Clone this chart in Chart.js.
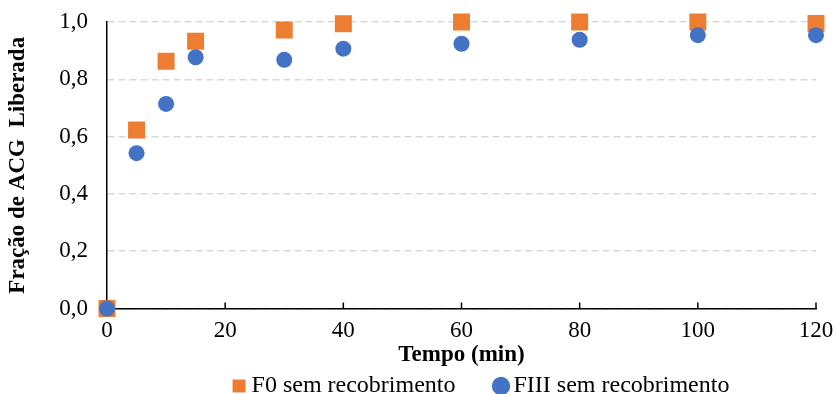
<!DOCTYPE html>
<html>
<head>
<meta charset="utf-8">
<script src="https://cdn.jsdelivr.net/npm/chart.js@4.4.1/dist/chart.umd.min.js"></script>
<style>
  html, body { margin: 0; padding: 0; background: #fff; }
</style>
</head>
<body>
<canvas id="releaseChart" width="837" height="394"></canvas>
<script>
// Release profile: fraction of ACG released over time (min)
const tempos = [0, 5, 10, 15, 30, 40, 60, 80, 100, 120];
const f0Values = [0.000, 0.623, 0.863, 0.933, 0.972, 0.994, 1.000, 1.000, 1.000, 0.995];
const fiiiValues = [0.000, 0.542, 0.714, 0.877, 0.868, 0.907, 0.924, 0.938, 0.954, 0.954];
const seriesNames = ['F0 sem recobrimento', 'FIII sem recobrimento'];
const xTicks = [0, 20, 40, 60, 80, 100, 120];
const yTicks = [0, 0.2, 0.4, 0.6, 0.8, 1.0];

const serif = '"Liberation Serif", "Times New Roman", serif';
Chart.defaults.font.family = serif;
Chart.defaults.color = '#000';

const toPoints = values => tempos.map((t, i) => ({ x: t, y: values[i] }));

// small tick marks pointing up from the time axis
const innerTicks = {
    id: 'innerTicks',
    beforeDatasetsDraw(chart) {
        const scale = chart.scales.x;
        const ctx = chart.ctx;
        ctx.save();
        ctx.strokeStyle = '#000';
        ctx.lineWidth = 1.5;
        xTicks.forEach(v => {
            if (v === 0) return;
            const px = scale.getPixelForValue(v);
            ctx.beginPath();
            ctx.moveTo(px, scale.top);
            ctx.lineTo(px, scale.top - 6);
            ctx.stroke();
        });
        ctx.restore();
    }
};

// legend: keep the wide item spacing but sit it just under the axis title,
// a bit right of the canvas centre (box is stretched so nothing gets clipped)
const legendOffset = {
    id: 'legendOffset',
    afterLayout(chart) {
        const lg = chart.legend;
        lg.left += 76;
        lg.right += 76;
        lg.top -= 39.5;
        lg.bottom = chart.height;
        lg.height = lg.bottom - lg.top;
    }
};

const ctx = document.getElementById('releaseChart').getContext('2d');
new Chart(ctx, {
    type: 'scatter',
    data: {
        datasets: [
            {
                label: seriesNames[0],
                data: toPoints(f0Values),
                pointStyle: 'rect',
                pointRadius: 12,
                pointBackgroundColor: '#ED7D31',
                backgroundColor: '#ED7D31',
                pointBorderWidth: 0,
                borderWidth: 0,
                clip: false,
                order: 1
            },
            {
                label: seriesNames[1],
                data: toPoints(fiiiValues),
                pointStyle: 'circle',
                pointRadius: 8,
                pointBackgroundColor: '#4472C4',
                backgroundColor: '#4472C4',
                pointBorderWidth: 0,
                borderWidth: 0,
                clip: false,
                order: 0
            }
        ]
    },
    options: {
        responsive: false,
        animation: false,
        events: [],
        layout: {
            padding: { top: 22, right: 21, bottom: 0, left: 0 }
        },
        plugins: {
            legend: {
                position: 'bottom',
                maxHeight: 25.5,
                labels: {
                    usePointStyle: true,
                    boxWidth: 1,
                    boxHeight: 13,
                    padding: 45,
                    color: '#000',
                    font: { size: 24 },
                    sort: (a, b) => a.datasetIndex - b.datasetIndex
                }
            },
            tooltip: { enabled: false }
        },
        scales: {
            x: {
                type: 'linear',
                min: 0,
                max: 120,
                afterBuildTicks: scale => {
                    scale.ticks = xTicks.map(v => ({ value: v }));
                },
                afterFit: scale => {
                    scale.height = 60;
                },
                grid: {
                    display: false,
                    drawTicks: true,
                    tickLength: 9,
                    tickColor: 'rgba(0,0,0,0)'
                },
                border: { display: true, color: '#000', width: 1.5 },
                ticks: {
                    padding: 0,
                    font: { size: 23 },
                    color: '#000'
                },
                title: {
                    display: true,
                    text: 'Tempo (min)',
                    font: { size: 23, weight: 'bold' },
                    color: '#000',
                    padding: { top: 0, bottom: 0 }
                }
            },
            y: {
                type: 'linear',
                min: 0,
                max: 1,
                afterBuildTicks: scale => {
                    scale.ticks = yTicks.map(v => ({ value: v }));
                },
                afterFit: scale => {
                    scale.width = 107;
                },
                grid: {
                    color: '#d9d9d9',
                    lineWidth: 1.5,
                    drawTicks: true,
                    tickLength: 19,
                    tickColor: 'rgba(0,0,0,0)'
                },
                border: { display: true, color: '#000', width: 1.5, dash: [7, 4] },
                ticks: {
                    padding: 0,
                    font: { size: 23 },
                    color: '#000',
                    callback: v => v.toFixed(1).replace('.', ',')
                },
                title: {
                    display: true,
                    text: 'Fração de ACG  Liberada',
                    font: { size: 23, weight: 'bold' },
                    color: '#000',
                    padding: { top: 4, bottom: 0 }
                }
            }
        }
    },
    plugins: [innerTicks, legendOffset]
});
</script>
</body>
</html>
